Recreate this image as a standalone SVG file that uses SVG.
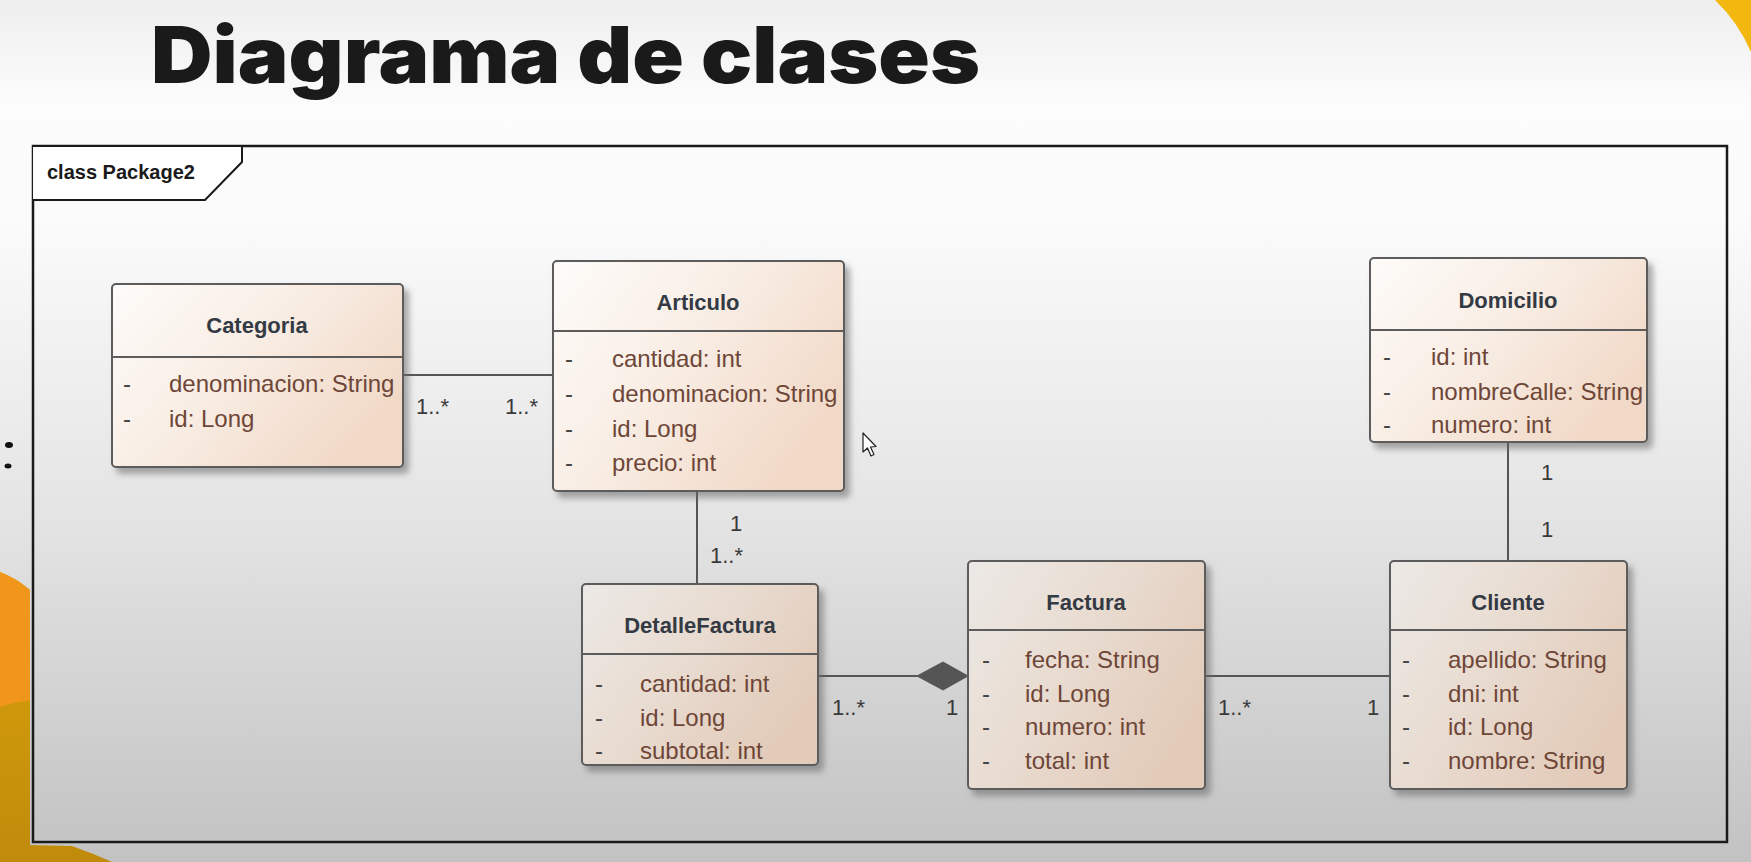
<svg xmlns="http://www.w3.org/2000/svg" width="1751" height="862" viewBox="0 0 1751 862">
  <defs>
    <linearGradient id="bg" x1="0" y1="0" x2="0" y2="1">
      <stop offset="0" stop-color="#eeeeee"/>
      <stop offset="0.12" stop-color="#fcfcfc"/>
      <stop offset="0.25" stop-color="#fbfbfb"/>
      <stop offset="0.6" stop-color="#e4e4e4"/>
      <stop offset="1" stop-color="#c2c2c2"/>
    </linearGradient>
    <linearGradient id="clsTop" x1="0" y1="0" x2="1" y2="0.6">
      <stop offset="0" stop-color="#fdfbf9"/>
      <stop offset="0.45" stop-color="#f9efe7"/>
      <stop offset="1" stop-color="#f1d9c7"/>
    </linearGradient>
    <linearGradient id="clsBot" x1="0" y1="0" x2="1" y2="0.6">
      <stop offset="0" stop-color="#ece9e6"/>
      <stop offset="0.45" stop-color="#e9ddd3"/>
      <stop offset="1" stop-color="#e2cbb9"/>
    </linearGradient>
    <linearGradient id="gold" x1="0" y1="0" x2="0" y2="1">
      <stop offset="0" stop-color="#dba30c"/>
      <stop offset="1" stop-color="#c08b0b"/>
    </linearGradient>
    <filter id="shadow" x="-10%" y="-10%" width="130%" height="130%">
      <feDropShadow dx="5" dy="6" stdDeviation="3" flood-color="#666" flood-opacity="0.55"/>
    </filter>
    <style>
      .box { stroke: #5c5c5c; stroke-width: 2; filter: url(#shadow); }
      .top { fill: url(#clsTop); }
      .bot { fill: url(#clsBot); }
      .div { stroke: #5c5c5c; stroke-width: 2; }
      .name { font-family: "Liberation Sans", Arial, sans-serif; font-weight: bold; font-size: 22px; fill: #343a44; text-anchor: middle; }
      .attr { font-family: "Liberation Sans", Arial, sans-serif; font-size: 24px; fill: #6e4638; }
      .dash { font-family: "Liberation Sans", Arial, sans-serif; font-size: 24px; fill: #444; }
      .conn { stroke: #555; stroke-width: 2; fill: none; }
      .mult { font-family: "Liberation Sans", Arial, sans-serif; font-size: 22px; fill: #3a3a3a; }
    </style>
  </defs>

  <!-- background -->
  <rect x="0" y="0" width="1751" height="862" fill="url(#bg)"/>
  <path d="M1715,0 Q1738,22 1751,52 L1751,0 Z" fill="#f2b80f"/>
  <path d="M0,572 Q16,578 30,590 L30,845 L72,846 Q92,853 112,862 L0,862 Z" fill="url(#gold)"/>
  <path d="M0,572 Q16,578 30,590 L30,700 Q15,702 0,707 Z" fill="#ef961b"/>
  <ellipse cx="9" cy="445" rx="4" ry="3" fill="#111"/>
  <ellipse cx="8" cy="466" rx="3.5" ry="2.5" fill="#111"/>

  <!-- title -->
  <text x="151" y="83" font-family="Inter, 'Liberation Sans', sans-serif" font-weight="900" font-size="78" fill="#1a1a1a" textLength="829" lengthAdjust="spacingAndGlyphs">Diagrama de clases</text>

  <!-- frame -->
  <g id="frame">
    <rect x="33" y="146" width="1694" height="696" fill="none" stroke="#1a1a1a" stroke-width="2.5"/>
    <path d="M33,146 L242,146 L242,162 L205,200 L33,200" fill="#ffffff" stroke="#1a1a1a" stroke-width="2"/>
    <text x="47" y="179" font-family="'Liberation Sans', Arial, sans-serif" font-weight="bold" font-size="20" fill="#1a1a1a">class Package2</text>
  </g>

  <!-- connectors -->
  <g id="connectors">
    <line class="conn" x1="403" y1="375" x2="553" y2="375"/>
    <line class="conn" x1="697" y1="491" x2="697" y2="584"/>
    <line class="conn" x1="818" y1="676" x2="918" y2="676"/>
    <polygon points="917,676 943,662 968,676 943,690" fill="#555" stroke="#555" stroke-width="1"/>
    <line class="conn" x1="1205" y1="676" x2="1390" y2="676"/>
    <line class="conn" x1="1508" y1="442" x2="1508" y2="561"/>
    <text class="mult" x="416" y="414">1..*</text>
    <text class="mult" x="505" y="414">1..*</text>
    <text class="mult" x="730" y="531">1</text>
    <text class="mult" x="710" y="563">1..*</text>
    <text class="mult" x="832" y="715">1..*</text>
    <text class="mult" x="946" y="715">1</text>
    <text class="mult" x="1218" y="715">1..*</text>
    <text class="mult" x="1367" y="715">1</text>
    <text class="mult" x="1541" y="480">1</text>
    <text class="mult" x="1541" y="537">1</text>
  </g>

  <!-- Categoria -->
  <g id="Categoria">
    <rect class="box top" x="112" y="284" width="291" height="183" rx="4"/>
    <line class="div" x1="112" y1="357" x2="403" y2="357"/>
    <text class="name" x="257" y="333">Categoria</text>
    <text class="dash" x="123" y="392">-</text>
    <text class="attr" x="169" y="392">denominacion: String</text>
    <text class="dash" x="123" y="427">-</text>
    <text class="attr" x="169" y="427">id: Long</text>
  </g>

  <!-- Articulo -->
  <g id="Articulo">
    <rect class="box top" x="553" y="261" width="291" height="230" rx="4"/>
    <line class="div" x1="553" y1="331" x2="844" y2="331"/>
    <text class="name" x="698" y="310">Articulo</text>
    <text class="dash" x="565" y="367">-</text>
    <text class="attr" x="612" y="367">cantidad: int</text>
    <text class="dash" x="565" y="402">-</text>
    <text class="attr" x="612" y="402">denominacion: String</text>
    <text class="dash" x="565" y="437">-</text>
    <text class="attr" x="612" y="437">id: Long</text>
    <text class="dash" x="565" y="471">-</text>
    <text class="attr" x="612" y="471">precio: int</text>
  </g>

  <!-- Domicilio -->
  <g id="Domicilio">
    <rect class="box top" x="1370" y="258" width="277" height="184" rx="4"/>
    <line class="div" x1="1370" y1="330" x2="1647" y2="330"/>
    <text class="name" x="1508" y="308">Domicilio</text>
    <text class="dash" x="1383" y="365">-</text>
    <text class="attr" x="1431" y="365">id: int</text>
    <text class="dash" x="1383" y="400">-</text>
    <text class="attr" x="1431" y="400">nombreCalle: String</text>
    <text class="dash" x="1383" y="433">-</text>
    <text class="attr" x="1431" y="433">numero: int</text>
  </g>

  <!-- DetalleFactura -->
  <g id="DetalleFactura">
    <rect class="box bot" x="582" y="584" width="236" height="181" rx="4"/>
    <line class="div" x1="582" y1="654" x2="818" y2="654"/>
    <text class="name" x="700" y="633">DetalleFactura</text>
    <text class="dash" x="595" y="692">-</text>
    <text class="attr" x="640" y="692">cantidad: int</text>
    <text class="dash" x="595" y="726">-</text>
    <text class="attr" x="640" y="726">id: Long</text>
    <text class="dash" x="595" y="759">-</text>
    <text class="attr" x="640" y="759">subtotal: int</text>
  </g>

  <!-- Factura -->
  <g id="Factura">
    <rect class="box bot" x="968" y="561" width="237" height="228" rx="4"/>
    <line class="div" x1="968" y1="630" x2="1205" y2="630"/>
    <text class="name" x="1086" y="610">Factura</text>
    <text class="dash" x="982" y="668">-</text>
    <text class="attr" x="1025" y="668">fecha: String</text>
    <text class="dash" x="982" y="702">-</text>
    <text class="attr" x="1025" y="702">id: Long</text>
    <text class="dash" x="982" y="735">-</text>
    <text class="attr" x="1025" y="735">numero: int</text>
    <text class="dash" x="982" y="769">-</text>
    <text class="attr" x="1025" y="769">total: int</text>
  </g>

  <!-- Cliente -->
  <g id="Cliente">
    <rect class="box bot" x="1390" y="561" width="237" height="228" rx="4"/>
    <line class="div" x1="1390" y1="630" x2="1627" y2="630"/>
    <text class="name" x="1508" y="610">Cliente</text>
    <text class="dash" x="1402" y="668">-</text>
    <text class="attr" x="1448" y="668">apellido: String</text>
    <text class="dash" x="1402" y="702">-</text>
    <text class="attr" x="1448" y="702">dni: int</text>
    <text class="dash" x="1402" y="735">-</text>
    <text class="attr" x="1448" y="735">id: Long</text>
    <text class="dash" x="1402" y="769">-</text>
    <text class="attr" x="1448" y="769">nombre: String</text>
  </g>

  <!-- mouse cursor -->
  <path d="M863,433 L863,452 L867.5,448 L871,456 L874,454.5 L870.5,447 L876,446.5 Z" fill="#ffffff" stroke="#222" stroke-width="1.2" stroke-linejoin="round"/>
</svg>
